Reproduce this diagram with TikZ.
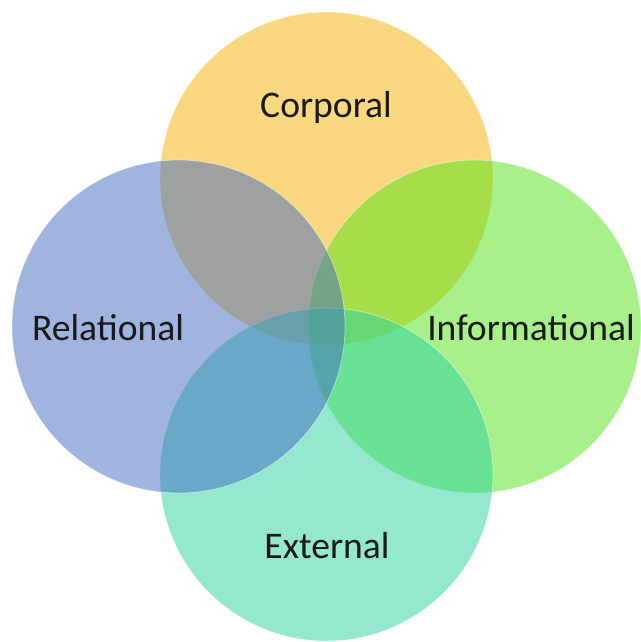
\documentclass[tikz,border=0pt]{standalone}
\usepackage{fontspec}
\setmainfont{Carlito}
\newfontfamily\serifg{Liberation Serif}
\definecolor{cyellow}{RGB}{247,179,0}
\definecolor{cblue}{RGB}{65,107,193}
\definecolor{cgreen}{RGB}{83,229,23}
\definecolor{cteal}{RGB}{41,211,161}
\tikzset{
  vennset/.style={fill opacity=0.5, draw=white, draw opacity=0.45, line width=0.8pt},
  venntext/.style={text=black!90, font=\fontsize{37.6}{42}\selectfont, inner sep=0pt}
}
\begin{document}
\begin{tikzpicture}[x=1pt,y=-1pt]
\useasboundingbox (0,0) rectangle (640,642);
\fill[white] (0,0) rectangle (640,642);
\coordinate (ctr) at (326.5,326.5);
\path[vennset, fill=cyellow] (326.5,178.5) circle[radius=166.5];
\path[vennset, fill=cgreen] (474.5,326.5) circle[radius=166.5];
\path[vennset, fill=cteal] (326.5,474.5) circle[radius=166.5];
\path[vennset, fill=cblue] (178.5,326.5) circle[radius=166.5];
\node[venntext] (corp) at (326,107) {Corporal};
\node[venntext] (rel) at (108,328) {Relational};
\node[venntext] (inf) at (531,328) {Informational};
\node[venntext] (ext) at (327,546) {External};
\begin{scope}
\clip (0,0) rectangle (640,642);
\node[anchor=base west, inner sep=0pt, font=\serifg\fontsize{20}{22}\selectfont] (gfrag) at (2,-4) {g};
\end{scope}
\end{tikzpicture}
\end{document}
